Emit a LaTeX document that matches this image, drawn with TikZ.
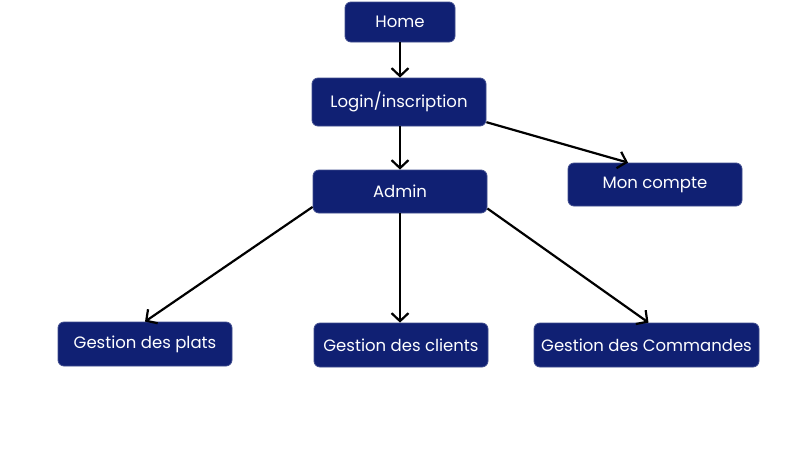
\documentclass[tikz,border=0pt]{standalone}
\usepackage{fontspec}
\setmainfont{Poppins}
\usetikzlibrary{arrows.meta,calc}
\definecolor{navy}{RGB}{16,32,115}
\begin{document}
\begin{tikzpicture}[x=1pt,y=-1pt,
  box/.style={fill=navy,draw=navy!80!white,line width=0.8pt,rounded corners=6pt,text=white,font=\fontsize{16.5}{19}\selectfont,inner sep=0pt,minimum height=44pt},
  link/.style={draw=black,line width=2.2pt,-{Straight Barb[length=8pt,width=17pt,line width=2.2pt]}}]
\useasboundingbox[fill=white] (0,0) rectangle (800,467);
\node[box,minimum width=110pt,minimum height=40pt] (home) at (400,22) {Home};
\node[box,minimum width=174pt,minimum height=48pt] (login) at (399,102) {Login/inscription};
\node[box,minimum width=174pt,minimum height=43pt] (admin) at (400,191.5) {Admin};
\node[box,minimum width=174pt,minimum height=43pt] (mon) at (655,184.5) {Mon compte};
\node[box,minimum width=174pt] (plats) at (145,344) {Gestion des plats};
\node[box,minimum width=174pt] (clients) at (401,345) {Gestion des clients};
\node[box,minimum width=225pt] (cmd) at (646.5,345) {Gestion des Commandes};
\draw[link] (home.south) -- (home.south |- login.north);
\draw[link] (login.south -| admin.north) -- (admin.north);
\draw[link] (login.-13) -- ($(mon.north)+(-27,0)$);
\draw[link] (admin.190.7) -- (plats.north);
\draw[link] (admin.south) -- (admin.south |- clients.north);
\draw[link] (admin.-11.7) -- ($(cmd.north)+(2,0)$);
\end{tikzpicture}
\end{document}
